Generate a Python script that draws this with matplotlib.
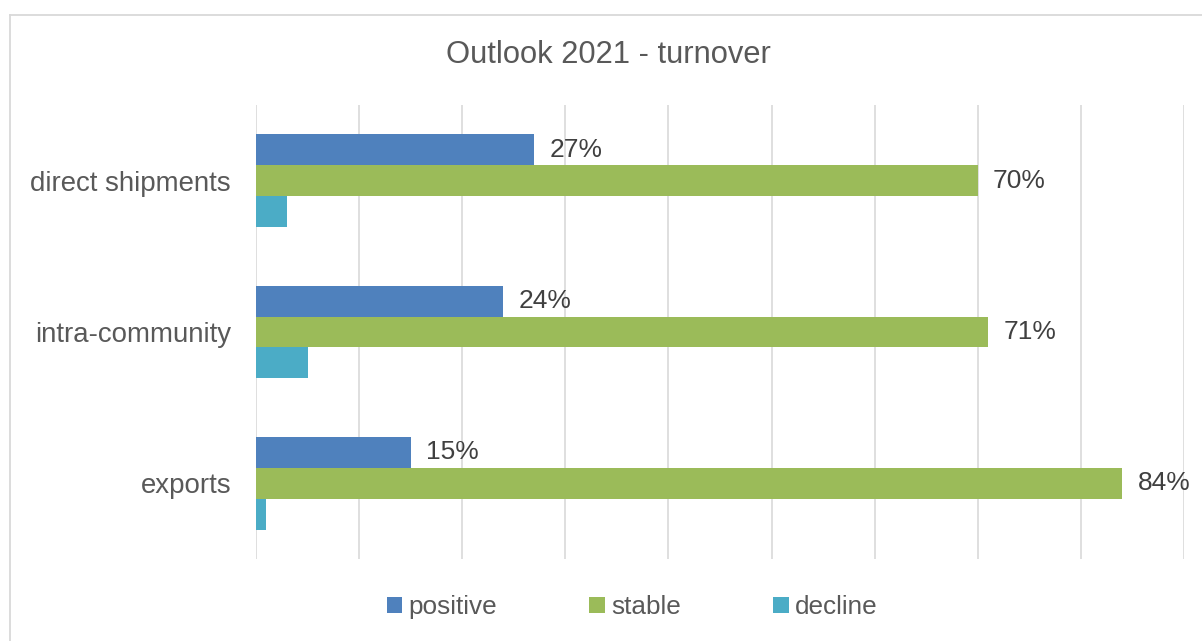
#!/usr/bin/env python3

import matplotlib
matplotlib.use('Agg')
import matplotlib.pyplot as plt
from matplotlib.patches import Patch
from matplotlib.lines import Line2D
import numpy as np

plt.rcParams['font.family'] = ['Liberation Sans', 'DejaVu Sans']

# data (shares, %)
categories = ['direct shipments', 'intra-community', 'exports']
series_names = ['positive', 'stable', 'decline']
positive = [27, 24, 15]
stable = [70, 71, 84]
decline = [3, 5, 1]
labelled = ['positive', 'stable']   # decline bars carry no labels

colors = ['#4F81BD', '#9BBB59', '#4BACC6']
W, H = 1202, 641

fig = plt.figure(figsize=(W / 100, H / 100), dpi=100)
ax = fig.add_axes([256 / W, 1 - 559 / H, (1184 - 256) / W, (559 - 105) / H])

y = np.arange(len(categories))
h = 0.204
for i, (name, vals) in enumerate(zip(series_names, [positive, stable, decline])):
    bars = ax.barh(y + (i - 1) * h, vals, height=h, color=colors[i],
                   linewidth=0, label=name, zorder=3)
    if name in labelled:
        ax.bar_label(bars, labels=['%d%%' % v for v in vals], padding=11,
                     fontsize=19, color='#404040')

ax.set_xlim(0, 90)
ax.set_ylim(len(categories) - 0.5, -0.5)
ax.set_xticks(np.arange(0, 91, 10))
ax.set_xticklabels([])
ax.set_yticks(y)
ax.set_yticklabels(categories, fontsize=19.9, color='#595959')
ax.tick_params(axis='both', length=0)
ax.tick_params(axis='y', pad=18)
ax.grid(axis='x', color='#D9D9D9', linewidth=1.2, zorder=0)
ax.grid(axis='y', visible=False)
for s in ax.spines.values():
    s.set_visible(False)

fig.text(608 / W, 1 - 63 / H, 'Outlook 2021 - turnover', ha='center',
         va='baseline', fontsize=22.2, color='#595959')

handles = [Patch(facecolor=c, edgecolor='none') for c in colors]
fig.legend(handles, series_names, loc='center', ncol=3,
           bbox_to_anchor=(632 / W, 1 - 607 / H), frameon=False,
           fontsize=18.8, labelcolor='#595959', handlelength=0.6,
           handleheight=0.6, handletextpad=0.22, columnspacing=3.55)

# chart frame (runs off the right and bottom edge)
fc = '#D9D9D9'
fig.add_artist(Line2D([10 / W, 10 / W], [-0.1, 1 - 15 / H], color=fc, lw=1.3))
fig.add_artist(Line2D([10 / W, 1.1], [1 - 15 / H, 1 - 15 / H], color=fc, lw=1.3))

fig.savefig('out.png', dpi=100)
